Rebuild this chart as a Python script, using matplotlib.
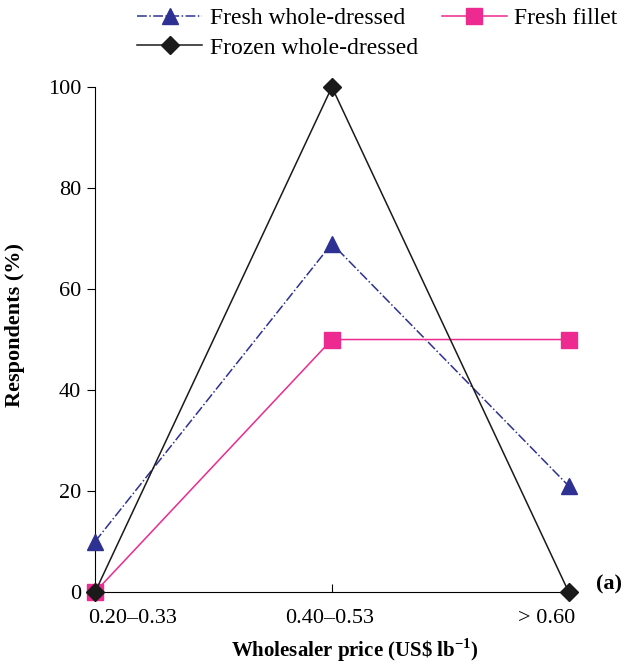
import matplotlib.pyplot as plt

categories = ["0.20\u20130.33", "0.40\u20130.53", "> 0.60"]
fresh_whole = [10, 69, 21]
fresh_fillet = [0, 50, 50]
frozen_whole = [0, 100, 0]

plt.rcParams['font.family'] = ['Liberation Serif', 'DejaVu Serif']
plt.rcParams['mathtext.fontset'] = 'custom'
plt.rcParams['mathtext.rm'] = 'Liberation Serif'
plt.rcParams['mathtext.bf'] = 'Liberation Serif:bold'

fig = plt.figure(figsize=(6.34, 6.72), dpi=100)
ax = fig.add_axes([0.150, 0.119, 0.747, 0.7515])

x = list(range(len(categories)))
l1, = ax.plot(x, fresh_whole, color='#2e3192', linestyle='-.', lw=1.1,
              marker='^', ms=12, clip_on=False, zorder=3)
l3, = ax.plot(x, fresh_fillet, color='#ec2a8f', linestyle='-', lw=1.1,
              marker='s', ms=11, clip_on=False, zorder=3)
l2, = ax.plot(x, frozen_whole, color='#1a1a1a', linestyle='-', lw=1.1,
              marker='D', ms=9, clip_on=False, zorder=4)

ax.set_xlim(0, 2)
ax.set_ylim(0, 100)
ax.set_yticks([0, 20, 40, 60, 80, 100])
ax.set_xticks(x)
ax.set_xticklabels([])
ax.spines['top'].set_visible(False)
ax.spines['right'].set_visible(False)
ax.tick_params(axis='y', direction='out', length=6, labelsize=16, pad=4)
ax.tick_params(axis='x', direction='in', length=6)

# category labels, outer ones pulled inward like the original
aligns = ['left', 'center', 'right']
shifts = [-7, -2, 7]
for i, lab in enumerate(categories):
    ax.annotate(lab, xy=(x[i], 0), xycoords=('data', 'axes fraction'),
                xytext=(shifts[i], -26), textcoords='offset pixels',
                ha=aligns[i], va='center', fontsize=16, annotation_clip=False)

ax.set_ylabel("Respondents (%)", fontsize=16, fontweight='bold')
ax.yaxis.set_label_coords(-0.148, 0.529)
fig.text(0.56, 0.033, r"Wholesaler price (US\$ lb$^{\mathbf{-1}}$)", fontsize=15,
         fontweight='bold', ha='center', va='center')
ax.text(1.058, 0.014, "(a)", transform=ax.transAxes, fontsize=16,
        fontweight='bold', va='center', ha='left')

fig.legend([l1, l2, l3], ["Fresh whole-dressed", "Frozen whole-dressed", "Fresh fillet"],
           ncol=2, loc='upper left', bbox_to_anchor=(0.183, 1.02), frameon=False,
           fontsize=17, handlelength=2.75, columnspacing=1.0, labelspacing=0.33,
           handletextpad=0.33)

fig.savefig("out.png", dpi=100)
